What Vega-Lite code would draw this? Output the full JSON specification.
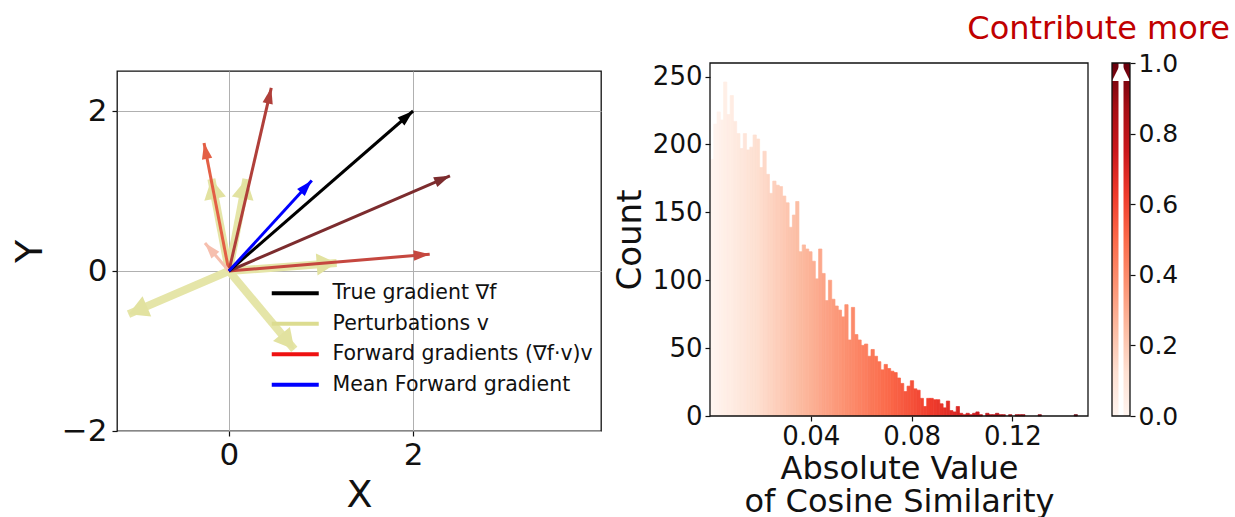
{
  "$schema": "https://vega.github.io/schema/vega-lite/v6.json",
  "background": "white",
  "autosize": {"type": "pad"},
  "padding": {"left": 10, "top": 13, "right": 4, "bottom": 4},
  "config": {
    "font": "DejaVu Sans",
    "view": {"stroke": "#111", "strokeWidth": 1.3},
    "axis": {"domain": false, "tickColor": "#111", "tickSize": 5, "tickWidth": 1.2, "labelColor": "#111", "titleColor": "#111", "titleFontWeight": "normal", "grid": false, "labelFont": "DejaVu Sans", "titleFont": "DejaVu Sans"},
    "legend": {"labelFont": "DejaVu Sans"}
  },
  "datasets": {
    "arrows": [
      {"kind": "Perturbations v", "x": -0.19, "y": 1.15},
      {"kind": "Perturbations v", "x": 0.19, "y": 1.15},
      {"kind": "Perturbations v", "x": 1.17, "y": 0.1},
      {"kind": "Perturbations v", "x": -1.09, "y": -0.54},
      {"kind": "Perturbations v", "x": 0.71, "y": -0.98},
      {"kind": "Forward gradients (∇f·v)v", "x": -0.27, "y": 1.6},
      {"kind": "Forward gradients (∇f·v)v", "x": 0.46, "y": 2.29},
      {"kind": "Forward gradients (∇f·v)v", "x": 2.18, "y": 0.21},
      {"kind": "Forward gradients (∇f·v)v", "x": 2.4, "y": 1.19},
      {"kind": "Forward gradients (∇f·v)v", "x": -0.26, "y": 0.35},
      {"kind": "True gradient ∇f", "x": 2, "y": 2},
      {"kind": "Mean Forward gradient", "x": 0.9, "y": 1.13}
    ],
    "hist": [
      {"lo": 0, "hi": 0.0013, "count": 189},
      {"lo": 0.0013, "hi": 0.0026, "count": 215},
      {"lo": 0.0026, "hi": 0.0039, "count": 224},
      {"lo": 0.0039, "hi": 0.0052, "count": 218},
      {"lo": 0.0052, "hi": 0.0065, "count": 246},
      {"lo": 0.0065, "hi": 0.0078, "count": 222},
      {"lo": 0.0078, "hi": 0.0091, "count": 236},
      {"lo": 0.0091, "hi": 0.0104, "count": 217},
      {"lo": 0.0104, "hi": 0.0117, "count": 208},
      {"lo": 0.0117, "hi": 0.013, "count": 197},
      {"lo": 0.013, "hi": 0.0143, "count": 208},
      {"lo": 0.0143, "hi": 0.0156, "count": 196},
      {"lo": 0.0156, "hi": 0.0169, "count": 198},
      {"lo": 0.0169, "hi": 0.0182, "count": 207},
      {"lo": 0.0182, "hi": 0.0195, "count": 204},
      {"lo": 0.0195, "hi": 0.0208, "count": 183},
      {"lo": 0.0208, "hi": 0.0221, "count": 195},
      {"lo": 0.0221, "hi": 0.0234, "count": 178},
      {"lo": 0.0234, "hi": 0.0247, "count": 164},
      {"lo": 0.0247, "hi": 0.026, "count": 173},
      {"lo": 0.026, "hi": 0.0273, "count": 170},
      {"lo": 0.0273, "hi": 0.0286, "count": 169},
      {"lo": 0.0286, "hi": 0.0299, "count": 162},
      {"lo": 0.0299, "hi": 0.0312, "count": 157},
      {"lo": 0.0312, "hi": 0.0325, "count": 139},
      {"lo": 0.0325, "hi": 0.0338, "count": 148},
      {"lo": 0.0338, "hi": 0.0351, "count": 158},
      {"lo": 0.0351, "hi": 0.0364, "count": 121},
      {"lo": 0.0364, "hi": 0.0377, "count": 126},
      {"lo": 0.0377, "hi": 0.039, "count": 123},
      {"lo": 0.039, "hi": 0.0403, "count": 121},
      {"lo": 0.0403, "hi": 0.0416, "count": 114},
      {"lo": 0.0416, "hi": 0.0429, "count": 101},
      {"lo": 0.0429, "hi": 0.0442, "count": 123},
      {"lo": 0.0442, "hi": 0.0455, "count": 105},
      {"lo": 0.0455, "hi": 0.0468, "count": 85},
      {"lo": 0.0468, "hi": 0.0481, "count": 100},
      {"lo": 0.0481, "hi": 0.0494, "count": 86},
      {"lo": 0.0494, "hi": 0.0507, "count": 81},
      {"lo": 0.0507, "hi": 0.052, "count": 78},
      {"lo": 0.052, "hi": 0.0533, "count": 73},
      {"lo": 0.0533, "hi": 0.0546, "count": 82},
      {"lo": 0.0546, "hi": 0.0559, "count": 56},
      {"lo": 0.0559, "hi": 0.0572, "count": 80},
      {"lo": 0.0572, "hi": 0.0585, "count": 60},
      {"lo": 0.0585, "hi": 0.0598, "count": 56},
      {"lo": 0.0598, "hi": 0.0611, "count": 52},
      {"lo": 0.0611, "hi": 0.0624, "count": 53},
      {"lo": 0.0624, "hi": 0.0637, "count": 44},
      {"lo": 0.0637, "hi": 0.065, "count": 49},
      {"lo": 0.065, "hi": 0.0663, "count": 44},
      {"lo": 0.0663, "hi": 0.0676, "count": 40},
      {"lo": 0.0676, "hi": 0.0689, "count": 34},
      {"lo": 0.0689, "hi": 0.0702, "count": 38},
      {"lo": 0.0702, "hi": 0.0715, "count": 35},
      {"lo": 0.0715, "hi": 0.0728, "count": 33},
      {"lo": 0.0728, "hi": 0.0741, "count": 32},
      {"lo": 0.0741, "hi": 0.0754, "count": 28},
      {"lo": 0.0754, "hi": 0.0767, "count": 24},
      {"lo": 0.0767, "hi": 0.078, "count": 18},
      {"lo": 0.078, "hi": 0.0793, "count": 22},
      {"lo": 0.0793, "hi": 0.0806, "count": 26},
      {"lo": 0.0806, "hi": 0.0819, "count": 20},
      {"lo": 0.0819, "hi": 0.0832, "count": 19},
      {"lo": 0.0832, "hi": 0.0845, "count": 13},
      {"lo": 0.0845, "hi": 0.0858, "count": 7},
      {"lo": 0.0858, "hi": 0.0871, "count": 13},
      {"lo": 0.0871, "hi": 0.0884, "count": 13},
      {"lo": 0.0884, "hi": 0.0897, "count": 12},
      {"lo": 0.0897, "hi": 0.091, "count": 12},
      {"lo": 0.091, "hi": 0.0923, "count": 9},
      {"lo": 0.0923, "hi": 0.0936, "count": 6},
      {"lo": 0.0936, "hi": 0.0949, "count": 11},
      {"lo": 0.0949, "hi": 0.0962, "count": 4},
      {"lo": 0.0962, "hi": 0.0975, "count": 3},
      {"lo": 0.0975, "hi": 0.0988, "count": 7},
      {"lo": 0.0988, "hi": 0.1001, "count": 2},
      {"lo": 0.1001, "hi": 0.1014, "count": 1},
      {"lo": 0.1014, "hi": 0.1027, "count": 2},
      {"lo": 0.1027, "hi": 0.104, "count": 1},
      {"lo": 0.104, "hi": 0.1053, "count": 2},
      {"lo": 0.1053, "hi": 0.1066, "count": 3},
      {"lo": 0.1066, "hi": 0.1079, "count": 1},
      {"lo": 0.1092, "hi": 0.1105, "count": 2},
      {"lo": 0.1105, "hi": 0.1118, "count": 1},
      {"lo": 0.1118, "hi": 0.1131, "count": 1},
      {"lo": 0.1131, "hi": 0.1144, "count": 2},
      {"lo": 0.1144, "hi": 0.1157, "count": 1},
      {"lo": 0.1157, "hi": 0.117, "count": 1},
      {"lo": 0.1183, "hi": 0.1196, "count": 1},
      {"lo": 0.1209, "hi": 0.1222, "count": 1},
      {"lo": 0.1222, "hi": 0.1235, "count": 1},
      {"lo": 0.1235, "hi": 0.1248, "count": 1},
      {"lo": 0.13, "hi": 0.1313, "count": 1},
      {"lo": 0.1443, "hi": 0.1456, "count": 1}
    ],
    "cbar": [{"lo": 0, "hi": 1}]
  },
  "bounds": "flush",
  "spacing": 109,
  "hconcat": [
    {
      "width": 484,
      "height": 360,
      "data": {"name": "arrows"},
      "transform": [
        {"calculate": "90 - atan2(datum.y * 80, datum.x * 92.1) * 180 / PI", "as": "ang"},
        {"calculate": "sqrt(datum.x * datum.x + datum.y * datum.y)", "as": "w"}
      ],
      "encoding": {
        "x": {"field": "x", "type": "quantitative", "scale": {"domain": [-1.215, 4.04], "nice": false, "zero": false},
          "axis": {"values": [0, 2], "format": "d", "labelFontSize": 31, "labelPadding": 4, "title": "X", "titleFontSize": 38, "titlePadding": 6, "grid": true, "gridColor": "#b0b0b0", "gridWidth": 1}},
        "y": {"field": "y", "type": "quantitative", "scale": {"domain": [-2, 2.5], "nice": false, "zero": false},
          "axis": {"values": [-2, 0, 2], "format": "d", "labelFontSize": 31, "labelPadding": 5, "title": "Y", "titleFontSize": 38, "titlePadding": 12, "grid": true, "gridColor": "#b0b0b0", "gridWidth": 1}}
      },
      "resolve": {"scale": {"color": "independent"}, "legend": {"color": "independent"}},
      "layer": [
        {
          "transform": [{"filter": "datum.kind == 'Perturbations v'"}],
          "mark": {"type": "rule", "strokeWidth": 8, "color": "#e5e5a8", "strokeCap": "butt"},
          "encoding": {"x2": {"datum": 0}, "y2": {"datum": 0}}
        },
        {
          "transform": [{"filter": "datum.kind == 'Perturbations v'"}],
          "mark": {"type": "point", "shape": "M0,0 L1.1,2 L-1.1,2 Z", "size": 400, "filled": true, "color": "#e2e2a0", "opacity": 1, "strokeWidth": 0},
          "encoding": {"angle": {"field": "ang", "type": "quantitative", "scale": null}}
        },
        {
          "transform": [{"filter": "datum.kind == 'Forward gradients (∇f·v)v'"}],
          "mark": {"type": "rule", "strokeWidth": 3, "strokeCap": "butt"},
          "encoding": {"x2": {"datum": 0}, "y2": {"datum": 0},
            "color": {"field": "w", "type": "quantitative", "scale": {"domain": [0.44, 1.62, 2.2, 2.68], "range": ["#f6bfae", "#e35f45", "#c4473f", "#7c2c2e"], "interpolate": "rgb"}, "legend": null}}
        },
        {
          "transform": [{"filter": "datum.kind == 'Forward gradients (∇f·v)v'"}],
          "mark": {"type": "point", "shape": "M0,0 L0.65,2 L-0.65,2 Z", "size": 256, "filled": true, "opacity": 1, "strokeWidth": 0},
          "encoding": {"angle": {"field": "ang", "type": "quantitative", "scale": null},
            "color": {"field": "w", "type": "quantitative", "scale": {"domain": [0.44, 1.62, 2.2, 2.68], "range": ["#f6bfae", "#e35f45", "#c4473f", "#7c2c2e"], "interpolate": "rgb"}, "legend": null}}
        },
        {
          "transform": [{"filter": "datum.kind == 'True gradient ∇f' || datum.kind == 'Mean Forward gradient'"}],
          "mark": {"type": "rule", "strokeWidth": 3, "strokeCap": "butt"},
          "encoding": {"x2": {"datum": 0}, "y2": {"datum": 0},
            "color": {"field": "kind", "type": "nominal",
              "scale": {"domain": ["True gradient ∇f", "Perturbations v", "Forward gradients (∇f·v)v", "Mean Forward gradient"], "range": ["#000000", "#dcdc90", "#ee1111", "#0000ff"]},
              "legend": {"orient": "none", "legendX": 168, "legendY": 212, "title": null, "symbolType": "M-4.7,0 L4.7,0", "symbolSize": 100, "symbolStrokeWidth": 4, "labelFontSize": 20.5, "labelOffset": 27, "rowPadding": 9.5, "padding": 0, "labelColor": "#111", "labelLimit": 400}}}
        },
        {
          "transform": [{"filter": "datum.kind == 'True gradient ∇f' || datum.kind == 'Mean Forward gradient'"}],
          "mark": {"type": "point", "shape": "M0,0 L0.65,2 L-0.65,2 Z", "size": 256, "filled": true, "opacity": 1, "strokeWidth": 0},
          "encoding": {"angle": {"field": "ang", "type": "quantitative", "scale": null},
            "color": {"field": "kind", "type": "nominal",
              "scale": {"domain": ["True gradient ∇f", "Perturbations v", "Forward gradients (∇f·v)v", "Mean Forward gradient"], "range": ["#000000", "#dcdc90", "#ee1111", "#0000ff"]},
              "legend": null}}
        }
      ]
    },
    {
      "width": 420,
      "height": 345,
      "view": {"stroke": null},
      "title": {"text": "Contribute more", "color": "#c00000", "fontSize": 32, "fontWeight": "normal", "anchor": "end", "frame": "group", "dx": 100, "offset": 5, "font": "DejaVu Sans"},
      "resolve": {"scale": {"x": "independent", "y": "independent", "color": "independent", "stroke": "independent"}, "axis": {"x": "independent", "y": "independent"}},
      "layer": [
        {
          "data": {"name": "hist"},
          "mark": {"type": "bar", "binSpacing": 0, "strokeWidth": 0.7},
          "encoding": {
            "x": {"field": "lo", "type": "quantitative", "bin": {"binned": true}, "scale": {"domain": [0, 0.15], "range": [0, 378], "nice": false, "zero": false},
              "axis": {"values": [0.04, 0.08, 0.12], "format": ".2f", "labelFontSize": 26, "labelPadding": 2, "title": ["Absolute Value", "of Cosine Similarity"], "titleFontSize": 32, "titleLineHeight": 33, "titlePadding": 4}},
            "x2": {"field": "hi"},
            "y": {"field": "count", "type": "quantitative", "scale": {"domain": [0, 260], "range": [345, -8], "nice": false},
              "axis": {"orient": "left", "values": [0, 50, 100, 150, 200, 250], "labelFontSize": 26, "labelPadding": 3, "title": "Count", "titleFontSize": 34, "titlePadding": 5}},
            "color": {"field": "lo", "type": "quantitative", "scale": {"domain": [0, 0.0175, 0.035, 0.0525, 0.07, 0.0875, 0.105, 0.1225, 0.14], "range": ["#fff5f0", "#fee0d2", "#fcbba1", "#fc9272", "#fb6a4a", "#ef3b2c", "#cb181d", "#a50f15", "#67000d"], "interpolate": "rgb", "clamp": true}, "legend": null},
            "stroke": {"field": "lo", "type": "quantitative", "scale": {"domain": [0, 0.0175, 0.035, 0.0525, 0.07, 0.0875, 0.105, 0.1225, 0.14], "range": ["#fff5f0", "#fee0d2", "#fcbba1", "#fc9272", "#fb6a4a", "#ef3b2c", "#cb181d", "#a50f15", "#67000d"], "interpolate": "rgb", "clamp": true}, "legend": null}
          }
        },
        {
          "data": {"name": "cbar"},
          "mark": {"type": "rect", "fill": "transparent", "stroke": "#111", "strokeWidth": 1.3},
          "encoding": {
            "x": {"datum": 0, "type": "quantitative", "scale": {"domain": [0, 0.15], "range": [0, 378], "nice": false, "zero": false}, "axis": null},
            "x2": {"datum": 0.15},
            "y": {"datum": 0, "type": "quantitative", "scale": {"domain": [0, 260], "range": [345, -8], "nice": false}, "axis": null},
            "y2": {"datum": 260}
          }
        },
        {
          "data": {"name": "cbar"},
          "mark": {"type": "rect", "color": {"gradient": "linear", "x1": 0, "y1": 1, "x2": 0, "y2": 0,
            "stops": [
              {"offset": 0, "color": "#fff5f0"}, {"offset": 0.125, "color": "#fee0d2"}, {"offset": 0.25, "color": "#fcbba1"},
              {"offset": 0.375, "color": "#fc9272"}, {"offset": 0.5, "color": "#fb6a4a"}, {"offset": 0.625, "color": "#ef3b2c"},
              {"offset": 0.75, "color": "#cb181d"}, {"offset": 0.875, "color": "#a50f15"}, {"offset": 1, "color": "#67000d"}]}},
          "encoding": {
            "x": {"datum": 0, "type": "quantitative", "scale": {"domain": [0, 1], "range": [402, 420], "nice": false}, "axis": null},
            "x2": {"datum": 1},
            "y": {"field": "lo", "type": "quantitative", "scale": {"domain": [0, 1], "range": [345, -8], "nice": false},
              "axis": {"orient": "right", "values": [0, 0.2, 0.4, 0.6, 0.8, 1], "format": ".1f", "labelFontSize": 25, "labelPadding": 3, "title": null}},
            "y2": {"field": "hi"}
          }
        },
        {
          "data": {"name": "cbar"},
          "mark": {"type": "rule", "color": "white", "strokeWidth": 5, "strokeCap": "butt"},
          "encoding": {
            "x": {"datum": 0.5, "type": "quantitative", "scale": {"domain": [0, 1], "range": [402, 420], "nice": false}, "axis": null},
            "y": {"field": "lo", "type": "quantitative", "scale": {"domain": [0, 1], "range": [345, -8], "nice": false}, "axis": null},
            "y2": {"field": "hi"}
          }
        },
        {
          "data": {"name": "cbar"},
          "mark": {"type": "point", "shape": "M0,0 L1,2 L-1,2 Z", "size": 324, "filled": true, "color": "white", "opacity": 1, "strokeWidth": 0},
          "encoding": {
            "x": {"datum": 0.5, "type": "quantitative", "scale": {"domain": [0, 1], "range": [402, 420], "nice": false}, "axis": null},
            "y": {"field": "hi", "type": "quantitative", "scale": {"domain": [0, 1], "range": [345, -8], "nice": false}, "axis": null}
          }
        },
        {
          "data": {"name": "cbar"},
          "mark": {"type": "rect", "fill": "transparent", "stroke": "#111", "strokeWidth": 1.3},
          "encoding": {
            "x": {"datum": 0, "type": "quantitative", "scale": {"domain": [0, 1], "range": [402, 420], "nice": false}, "axis": null},
            "x2": {"datum": 1},
            "y": {"field": "lo", "type": "quantitative", "scale": {"domain": [0, 1], "range": [345, -8], "nice": false}, "axis": null},
            "y2": {"field": "hi"}
          }
        }
      ]
    }
  ]
}
